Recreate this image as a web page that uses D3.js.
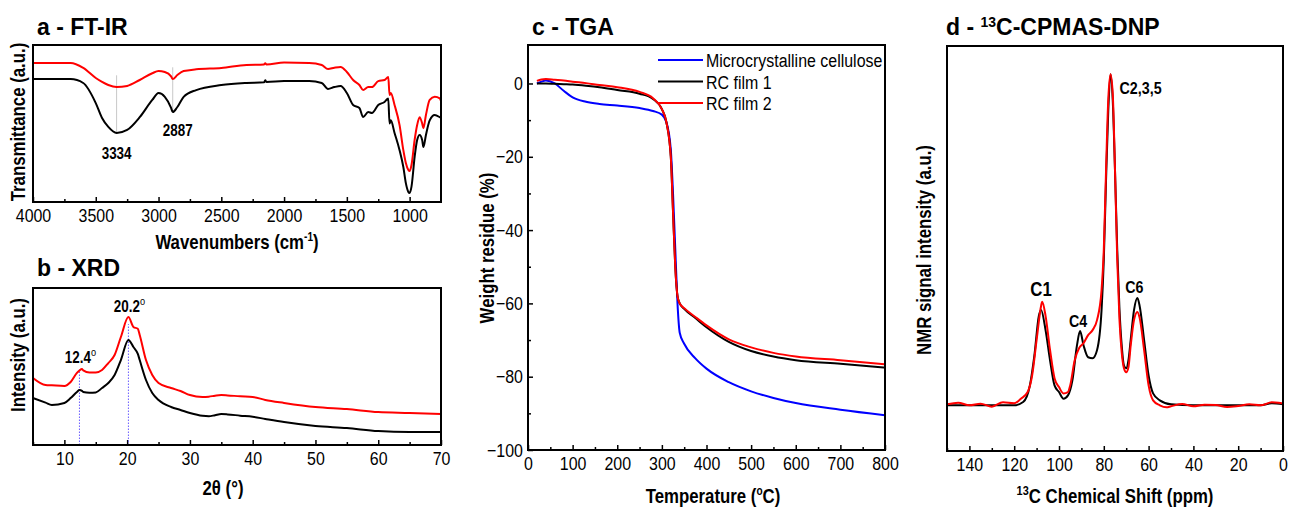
<!DOCTYPE html>
<meta charset="utf-8">
<style>
body { margin: 0; background: #fff; }
text { font-family: "Liberation Sans", Arial, sans-serif; }
.tick text { font-size: 19px; }
.ttl { font-size: 23px; font-weight: bold; }
.axt { font-size: 20px; font-weight: bold; }
.ann { font-size: 16px; font-weight: bold; }
.leg { font-size: 19px; }
</style>
<body>
<svg id="fig" width="1289" height="508"></svg>
<script src="https://d3js.org/d3.v7.min.js"></script>
<script>

// ---- a: FT-IR ----
var irWave = [4000,3700,3600,3500,3450,3400,3334,3250,3150,3050,3000,2950,2900,2887,2850,2800,2700,2500,2300,2160,2150,2140,2000,1800,1700,1650,1600,1550,1500,1450,1400,1370,1330,1300,1250,1200,1170,1160,1150,1120,1080,1050,1030,1010,1000,985,960,940,920,900,890,870,840,800,760,750];
var irFilm1 = [78.3,78.3,75.8,63,53.5,47.8,44,45.9,54,65,69.4,67,60,57.3,60.5,67,71.3,74.5,75.8,76.2,77.5,76.5,77,77,75.8,72,73.2,73.9,69.4,61.8,59.9,54.1,57.3,56.7,61.8,63.7,66,50,52,44,33,22.3,12,6.4,5.7,9.8,28.7,39.5,42.7,39.5,35,42.7,52,55.4,54,53.5];
var irFilm2 = [88.5,88.5,85.4,79,76.5,74.5,73.2,73.9,77.7,82,83.4,82.8,80,78.3,80.9,83.4,84.5,85.4,87.3,87.6,88.4,87.6,88.8,88.6,87.3,84.7,85.5,86,82.8,77.7,74.5,71.3,73.2,73.2,77,77.7,79.6,68.2,69.4,61.8,49,33,24.8,20.4,19.7,23.6,39.5,49,54,50,47,55.4,65,67,66,64.3];
var irPeaks = [3334, 2887];

// ---- b: XRD ----
var xrdTheta = [5,7,8,10,11,12,12.4,12.8,13,14,15,16,17,18,19,20.2,21,21.7,22,23,24,25,27,28.5,30,32,33,34,35,36,38,40,42,45,50,55,60,65,70];
var xrdFilm1 = [29.9,27,25.5,26.8,29.9,33.8,35,34.5,33.8,33.3,33.5,36.3,39.5,44.6,54.1,66.9,62.4,58,54.1,41.4,33.1,28.7,24.2,22.3,20.4,18.6,18.3,19,19.7,19.5,18.7,18,16.6,14.6,12.1,10.8,8.9,8.3,8.3];
var xrdFilm2 = [42.7,38.2,38,37.6,40.1,45.9,47.5,48.4,47.5,46.2,46.2,47.8,52.2,57.3,68.8,81.5,75.2,74,70.1,54.1,44.6,39.5,36.3,34.4,31.8,30.6,30.8,31.4,31.8,31.6,31,30.6,28.7,26.8,24.2,22.9,21,20.4,19.7];
var xrdPeaks = [12.4, 20.2];

// ---- c: TGA ----
var tgaTemp = [20,30,40,60,80,100,130,160,200,250,280,300,310,320,325,330,335,340,350,375,400,450,500,550,600,700,800];
var tgaMCC  = [0,0.5,0.8,0,-2,-3.8,-5,-5.6,-6,-6.7,-7.5,-8.5,-10.5,-18,-30,-45,-60,-68,-71,-75,-77.8,-81.5,-84,-85.8,-87.2,-89,-90.5];
var tgaFilm1 = [0,0,0,-0.1,-0.2,-0.3,-0.6,-1,-1.8,-2.8,-4.2,-7,-10.5,-20,-35,-50,-58,-60,-61.5,-64,-66.5,-70.5,-73,-74.5,-75.5,-76.5,-77.5];
var tgaFilm2 = [0.7,1.1,1.2,1,0.8,0.5,0.1,-0.4,-1,-2.3,-4,-7,-10.5,-20,-35,-50,-58,-60,-61.3,-63.7,-66,-69.8,-72,-73.5,-74.5,-75.5,-76.6];
var tgaNames = ["Microcrystalline cellulose", "RC film 1", "RC film 2"];

// ---- d: 13C CPMAS DNP ----
var nmrShift1 = [150,135,120,116,113,111,109,108,106,104,102,100,98,96,94,92,90.6,89,87,85,83,81,80,79,78,77,76,75,74,73,72,71,70,69,68,66.5,65,64,62,60,58,55,50,40,20,10,5,0];
var nmrFilm1  = [0,0,0,1,6,15,27,28.8,22.7,13.6,6,4,2,3,7.6,18,22.4,18,14.5,14.2,16.7,28.8,44,68,89,100,92,71,47,29,18,12,11.2,13.6,19.7,28.8,32.4,30,19.7,9,3.6,1.5,0.3,0,0,0,0.6,0.3];
var nmrShift2 = [150,145,140,135,130,125,120,117,114,112,110,108,107.5,106,104,102,100,98,96,95,93,91,89,87,85,83,81,80,79,78,77,76,75,74,73,72,71,70,69,68,66.5,65,64,62,60,58,55,52,50,45,40,35,30,25,20,15,10,5,2,0];
var nmrFilm2  = [0.3,0.8,0,0.5,-0.4,0.9,0.6,2,4,9,19.7,30,31.3,27,16.7,8.2,5.5,3.6,4,6,13.6,17.3,18.8,21.2,22.7,25.8,34.8,47,71,92.4,100,94,71,44,25.8,16,11.2,10,11.5,18,25.8,28.2,26.4,16.7,6,1.5,0,-0.6,-0.3,0.4,-0.3,0.2,0.1,-0.5,-0.2,0.3,0,0.9,0.8,0.5];
var nmrLabels = [["C1",108],["C4",90.6],["C2,3,5",77],["C6",65]];

var NARROW = 0.84; // no narrow font installed, squeeze glyphs instead
var svg = d3.select("#fig");

// text squeezed horizontally, optional rotation
function ctext(parent, cls, x, y, anchor, rot) {
  return parent.append("text").attr("class", cls).attr("text-anchor", anchor || "start")
    .attr("transform", "translate(" + x + "," + y + ")" + (rot ? " rotate(" + rot + ")" : "") + " scale(" + NARROW + ",1)");
}

function panel(o) {
  var g = svg.append("g");
  var x = d3.scaleLinear().domain(o.xd).range([o.l, o.r]);
  var y = d3.scaleLinear().domain(o.yd).range([o.b, o.t]);

  g.append("g").attr("transform", "translate(0," + o.b + ")")
    .call(d3.axisBottom(x).tickValues(o.xt).tickFormat(d3.format("d")).tickSizeInner(-5).tickSizeOuter(0).tickPadding(7))
    .call(function(s){ s.select(".domain").remove(); });
  g.append("g").attr("transform", "translate(0," + o.b + ")")
    .call(d3.axisBottom(x).tickValues(o.xm).tickFormat("").tickSizeInner(-3).tickSizeOuter(0))
    .call(function(s){ s.select(".domain").remove(); });
  if (o.yt) {
    g.append("g").attr("transform", "translate(" + o.l + ",0)")
      .call(d3.axisLeft(y).tickValues(o.yt).tickFormat(d3.format("d")).tickSizeInner(-5).tickSizeOuter(0).tickPadding(6))
      .call(function(s){ s.select(".domain").remove(); });
    g.append("g").attr("transform", "translate(" + o.l + ",0)")
      .call(d3.axisLeft(y).tickValues(o.ym).tickFormat("").tickSizeInner(-3).tickSizeOuter(0))
      .call(function(s){ s.select(".domain").remove(); });
  }
  g.selectAll(".tick line").attr("stroke", "#000").attr("stroke-width", 1.5);
  g.selectAll(".tick text").attr("transform", "scale(" + NARROW + ",1)");

  var clipId = "clip" + o.id;
  svg.append("clipPath").attr("id", clipId).append("rect")
    .attr("x", o.l).attr("y", o.t).attr("width", o.r - o.l).attr("height", o.b - o.t);
  var plot = g.append("g").attr("clip-path", "url(#" + clipId + ")");

  g.append("rect").attr("x", o.l).attr("y", o.t).attr("width", o.r - o.l).attr("height", o.b - o.t)
    .attr("fill", "none").attr("stroke", "#000").attr("stroke-width", 2);

  return {g: g, plot: plot, x: x, y: y};
}

function curve(p, xs, ys, color, w) {
  var line = d3.line().x(function(d){ return p.x(d[0]); }).y(function(d){ return p.y(d[1]); })
    .curve(d3.curveMonotoneX);
  p.plot.append("path").datum(d3.zip(xs, ys)).attr("d", line)
    .attr("fill", "none").attr("stroke", color).attr("stroke-width", w || 2).attr("stroke-linejoin", "round");
}

function sup(t, txt, size, up) {
  t.append("tspan").attr("font-size", size + "px").attr("dy", -up).text(txt);
}

// panel a
var pa = panel({id: "a", l: 33, r: 441, t: 45, b: 202, xd: [4000, 750], yd: [0, 100],
  xt: [4000,3500,3000,2500,2000,1500,1000], xm: d3.range(3750, 750, -500)});
irPeaks.forEach(function(w) {
  var i = irWave.indexOf(w);
  pa.plot.append("line").attr("x1", pa.x(w)).attr("x2", pa.x(w))
    .attr("y1", pa.y(irFilm2[i] + 7.5)).attr("y2", pa.y(irFilm1[i]))
    .attr("stroke", "#c8c8c8").attr("stroke-width", 1);
});
curve(pa, irWave, irFilm2, "#ff0000");
curve(pa, irWave, irFilm1, "#000");
ctext(pa.g, "ann", pa.x(3334), pa.y(irFilm1[6]) + 26, "middle").text("3334");
ctext(pa.g, "ann", pa.x(2887) + 5, pa.y(irFilm1[13]) + 24, "middle").text("2887");
svg.append("text").attr("class", "ttl").attr("x", 37).attr("y", 35).text("a - FT-IR");
var ta = ctext(svg, "axt", 237, 249, "middle");
ta.append("tspan").text("Wavenumbers (cm");
sup(ta, "-1", 12, 8);
ta.append("tspan").attr("dy", 8).text(")");
ctext(svg, "axt", 25, 122, "middle", -90).text("Transmittance (a.u.)");

// panel b
var pb = panel({id: "b", l: 33, r: 441, t: 288, b: 445, xd: [5, 70], yd: [0, 100],
  xt: [10,20,30,40,50,60,70], xm: d3.range(5, 70, 10)});
xrdPeaks.forEach(function(t, k) {
  var top = k === 0 ? 48 : 77;
  pb.plot.append("line").attr("x1", pb.x(t)).attr("x2", pb.x(t))
    .attr("y1", pb.y(0)).attr("y2", pb.y(top))
    .attr("stroke", "#6a5cff").attr("stroke-width", 1).attr("stroke-dasharray", "1.5,1.5");
});
curve(pb, xrdTheta, xrdFilm2, "#ff0000");
curve(pb, xrdTheta, xrdFilm1, "#000");
[[12.4, 52], [20.2, 85]].forEach(function(d) {
  var t = ctext(pb.g, "ann", pb.x(d[0]) + 1, pb.y(d[1]), "middle");
  t.append("tspan").text(d[0].toFixed(1));
  t.append("tspan").attr("font-size", "11px").attr("font-weight", "normal").attr("dy", -7).text("o");
});
svg.append("text").attr("class", "ttl").attr("x", 37).attr("y", 276).text("b - XRD");
ctext(svg, "axt", 223, 495, "middle").text("2\u03b8 (\u00b0)");
ctext(svg, "axt", 25, 355, "middle", -90).text("Intensity (a.u.)");

// panel c
var pc = panel({id: "c", l: 528, r: 885, t: 45, b: 450, xd: [0, 800], yd: [-100, 10.5],
  xt: d3.range(0, 801, 100), xm: d3.range(50, 800, 100),
  yt: [0,-20,-40,-60,-80,-100], ym: [-10,-30,-50,-70,-90]});
curve(pc, tgaTemp, tgaMCC, "#0000ff");
curve(pc, tgaTemp, tgaFilm1, "#000");
curve(pc, tgaTemp, tgaFilm2, "#ff0000");
var legColors = ["#0000ff", "#000", "#ff0000"];
tgaNames.forEach(function(n, i) {
  var yy = 60 + i * 21.5;
  svg.append("line").attr("x1", 658).attr("x2", 703).attr("y1", yy).attr("y2", yy)
    .attr("stroke", legColors[i]).attr("stroke-width", 2);
  ctext(svg, "leg", 706, yy + 7, "start").text(n);
});
svg.append("text").attr("class", "ttl").attr("x", 532).attr("y", 35).text("c - TGA");
var tc = ctext(svg, "axt", 713, 503, "middle");
tc.append("tspan").text("Temperature (");
sup(tc, "o", 12, 8);
tc.append("tspan").attr("dy", 8).text("C)");
ctext(svg, "axt", 494, 248, "middle", -90).text("Weight residue (%)");

// panel d
var pd = panel({id: "d", l: 947, r: 1283, t: 46, b: 451, xd: [150, 0], yd: [-13.8, 108.5],
  xt: d3.range(140, -1, -20), xm: d3.range(150, 0, -20)});
curve(pd, nmrShift1, nmrFilm1, "#000");
curve(pd, nmrShift2, nmrFilm2, "#ff0000");
// [dx, label baseline (signal units), anchor, font size]
var labOff = {"C1": [0, 33, "middle", 20], "C4": [-2, 23.5, "middle", 17], "C2,3,5": [9, 94, "start", 17], "C6": [-3, 34, "middle", 17]};
nmrLabels.forEach(function(d) {
  var o = labOff[d[0]];
  ctext(pd.g, "ann", pd.x(d[1]) + o[0], pd.y(o[1]), o[2]).style("font-size", o[3] + "px").text(d[0]);
});
var td = svg.append("text").attr("class", "ttl").attr("x", 946).attr("y", 35);
td.append("tspan").text("d - ");
sup(td, "13", 14, 8);
td.append("tspan").attr("dy", 8).text("C-CPMAS-DNP");
var tdx = ctext(svg, "axt", 1115, 503, "middle");
sup(tdx, "13", 13, 8);
tdx.append("tspan").attr("dy", 8).text("C Chemical Shift (ppm)");
ctext(svg, "axt", 931, 250, "middle", -90).text("NMR signal intensity (a.u.)");

</script>
</body>
